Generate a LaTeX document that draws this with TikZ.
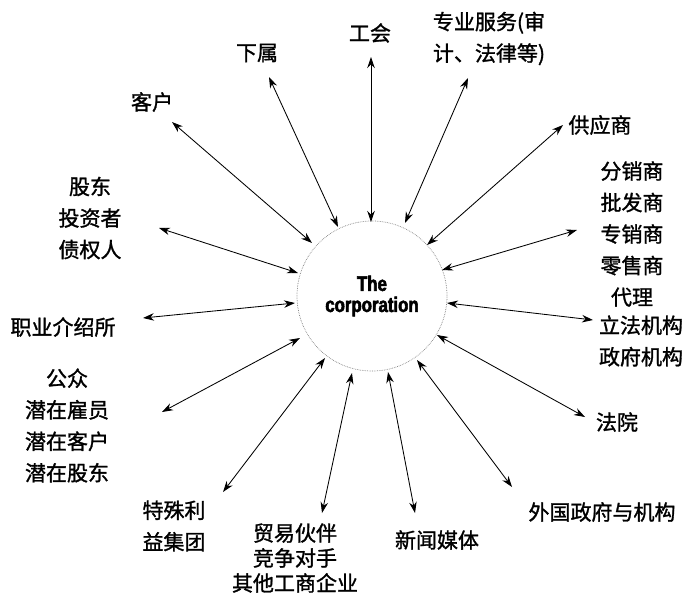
\documentclass[tikz,border=0pt]{standalone}
\usepackage{fontspec}
\newfontfamily\cjk[FakeBold=1.3]{Noto Sans CJK SC}
\newfontfamily\corpfont[FakeStretch=0.8,FakeBold=2.5]{Liberation Sans Bold}
\usetikzlibrary{arrows.meta}
\begin{document}
\begin{tikzpicture}[x=1pt,y=-1pt,
  lbl/.style={inner sep=0pt,align=center,font=\cjk\fontsize{21}{31.5}\selectfont},
  rel/.style={line width=0.85pt,{Stealth[length=11pt,width=7.5pt]}-{Stealth[length=11pt,width=7.5pt]}}]
\useasboundingbox (0,0) rectangle (688,594);
% centre
\node[circle,draw=gray,densely dotted,line width=0.7pt,minimum size=150pt,inner sep=0pt,
  align=center,font=\corpfont\fontsize{21}{21}\selectfont] (corp) at (372,296) {The\\corporation};
% labels
\node[lbl] (kehu) at (152,102) {客户};
\node[lbl] (xiashu) at (257,53) {下属};
\node[lbl] (gonghui) at (370,33) {工会};
\node[lbl] (zhuanye) at (489,38.5) {专业服务(审\\计、法律等)};
\node[lbl] (gongying) at (600,125) {供应商};
\node[lbl] (fenxiao) at (632,234) {分销商\\批发商\\专销商\\零售商\\代理};
\node[lbl] (lifa) at (641,341) {立法机构\\政府机构};
\node[lbl] (fayuan) at (617,422) {法院};
\node[lbl] (waiguo) at (602,512) {外国政府与机构};
\node[lbl] (xinwen) at (437,540) {新闻媒体};
\node[lbl,font=\cjk\fontsize{21}{25}\selectfont] (maoyi) at (295,558) {贸易伙伴\\竞争对手\\其他工商企业};
\node[lbl] (teshu) at (174,526) {特殊利\\益集团};
\node[lbl] (gongzhong) at (67,425.5) {公众\\潜在雇员\\潜在客户\\潜在股东};
\node[lbl] (zhiye) at (63,327) {职业介绍所};
\node[lbl] (gudong) at (90,218) {股东\\投资者\\债权人};
% arrow ends
\coordinate (o1) at (172,122);  \coordinate (i1) at (312,243);
\coordinate (o2) at (269,77);   \coordinate (i2) at (338,227);
\coordinate (o3) at (371,57);   \coordinate (i3) at (371,222);
\coordinate (o4) at (468,78);   \coordinate (i4) at (405,223);
\coordinate (o5) at (563,125);  \coordinate (i5) at (427,245);
\coordinate (o6) at (577,230);  \coordinate (i6) at (442,270);
\coordinate (o7) at (593,320);  \coordinate (i7) at (447,303);
\coordinate (o8) at (585,417);  \coordinate (i8) at (437,335);
\coordinate (o9) at (512,487);  \coordinate (i9) at (417,360);
\coordinate (o10) at (415,513); \coordinate (i10) at (388,372);
\coordinate (o11) at (322,513); \coordinate (i11) at (352,373);
\coordinate (o12) at (223,492); \coordinate (i12) at (325,358);
\coordinate (o13) at (162,412); \coordinate (i13) at (300,338);
\coordinate (o14) at (143,318); \coordinate (i14) at (295,303);
\coordinate (o15) at (159,228); \coordinate (i15) at (298,273);
\foreach \k in {1,...,15} { \draw[rel] (o\k) -- (i\k); }
\end{tikzpicture}
\end{document}
